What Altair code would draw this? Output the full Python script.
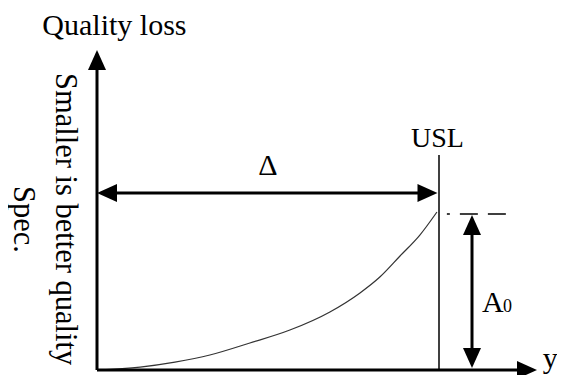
import altair as alt
import pandas as pd

# Units: quality characteristic y scaled so that USL (=Δ) = 1, loss scaled so that A0 = 1
# Quality-loss curve
curve_y = [0.0, 0.126, 0.228, 0.330, 0.447, 0.564, 0.681, 0.769, 0.827, 0.886, 0.944, 0.994]
curve_loss = [0.0, 0.019, 0.051, 0.096, 0.173, 0.256, 0.372, 0.494, 0.596, 0.731, 0.865, 1.013]

# Solid line segments: axes, Δ span, USL, A0 span
seg_name = ["loss axis", "y axis", "delta", "USL", "A0"]
seg_x = [0.0, 0.0, 0.029, 1.0, 1.0965]
seg_x2 = [0.0, 1.257, 0.971, 1.0, 1.0965]
seg_y = [0.0, 0.0, 1.1346, 0.0, 0.064]
seg_y2 = [1.987, 0.0, 1.1346, 1.378, 0.936]
seg_w = [3.0, 3.0, 3.0, 1.5, 3.0]

# Dashed reference at A0 level
dash_x = [1.023]
dash_x2 = [1.202]
dash_y = [1.0]

# Arrowhead tips and directions (degrees clockwise from up)
tip_x = [0.0, 1.2865, 0.0, 0.9956, 1.0965, 1.0965]
tip_y = [2.051, 0.0, 1.1346, 1.1346, 0.994, 0.0128]
tip_angle = [0, 90, 270, 90, 0, 180]

# Labels
h_text = ["Quality loss", "USL", "Δ"]
h_x = [0.051, 0.9956, 0.5]
h_y = [2.147, 1.429, 1.25]
h_size = [30, 28, 30]

l_text = ["A", "y"]
l_x = [1.1257, 1.303]
l_y = [0.372, 0.013]
l_size = [30, 30]

sub_text = ["0"]
sub_x = [1.187]
sub_y = [0.372]

v_text = ["Smaller is better quality", "Spec."]
v_x = [-0.1213, -0.2427]
v_y = [1.904, 1.179]

X_DOM = [(8 - 97) / 342, (557 - 97) / 342]
Y_DOM = [(370 - 375) / 156, (370 - 8) / 156]

xs = alt.Scale(domain=X_DOM, nice=False, zero=False)
ys = alt.Scale(domain=Y_DOM, nice=False, zero=False)
FONT = "Liberation Serif"

curve_df = pd.DataFrame({"x": curve_y, "y": curve_loss})
seg_df = pd.DataFrame({"name": seg_name, "x": seg_x, "x2": seg_x2, "y": seg_y, "y2": seg_y2, "w": seg_w})
dash_df = pd.DataFrame({"x": dash_x, "x2": dash_x2, "y": dash_y})
tip_df = pd.DataFrame({"x": tip_x, "y": tip_y, "a": tip_angle})
h_df = pd.DataFrame({"t": h_text, "x": h_x, "y": h_y, "fs": h_size})
l_df = pd.DataFrame({"t": l_text, "x": l_x, "y": l_y, "fs": l_size})
sub_df = pd.DataFrame({"t": sub_text, "x": sub_x, "y": sub_y})
v_df = pd.DataFrame({"t": v_text, "x": v_x, "y": v_y})

X = lambda f="x": alt.X(f"{f}:Q", scale=xs, axis=None)
Y = lambda f="y": alt.Y(f"{f}:Q", scale=ys, axis=None)

curve = alt.Chart(curve_df).mark_line(
    color="#333333", strokeWidth=1.2, interpolate="monotone"
).encode(x=X(), y=Y(), order="x:Q")

segs = alt.Chart(seg_df).mark_rule(color="black").encode(
    x=X(), x2="x2:Q", y=Y(), y2="y2:Q",
    strokeWidth=alt.StrokeWidth("w:Q", scale=None, legend=None),
)

dash = alt.Chart(dash_df).mark_rule(
    color="black", strokeWidth=1.5, strokeDash=[3, 10, 18, 10, 18]
).encode(x=X(), x2="x2:Q", y=Y())

tips = alt.Chart(tip_df).mark_point(
    shape="M0,0L-0.9,2L0.9,2Z", filled=True, color="black", opacity=1, size=400
).encode(x=X(), y=Y(), angle=alt.Angle("a:Q", scale=None))

htext = alt.Chart(h_df).mark_text(
    font=FONT, align="center", baseline="alphabetic", color="black"
).encode(x=X(), y=Y(), text="t:N", size=alt.Size("fs:Q", scale=None, legend=None))

ltext = alt.Chart(l_df).mark_text(
    font=FONT, align="left", baseline="alphabetic", color="black"
).encode(x=X(), y=Y(), text="t:N", size=alt.Size("fs:Q", scale=None, legend=None))

stext = alt.Chart(sub_df).mark_text(
    font=FONT, fontSize=18, align="left", baseline="alphabetic", color="black"
).encode(x=X(), y=Y(), text="t:N")

vtext = alt.Chart(v_df).mark_text(
    font=FONT, fontSize=30.5, align="left", baseline="alphabetic", angle=90, color="black"
).encode(x=X(), y=Y(), text="t:N")

chart = alt.layer(curve, segs, dash, tips, htext, ltext, stext, vtext).properties(
    width=549, height=367,
    autosize=alt.AutoSizeParams(type="none"),
    padding=0,
).configure_view(strokeWidth=0)

chart.save("out.html", embed_options={"renderer": "svg", "actions": False})
